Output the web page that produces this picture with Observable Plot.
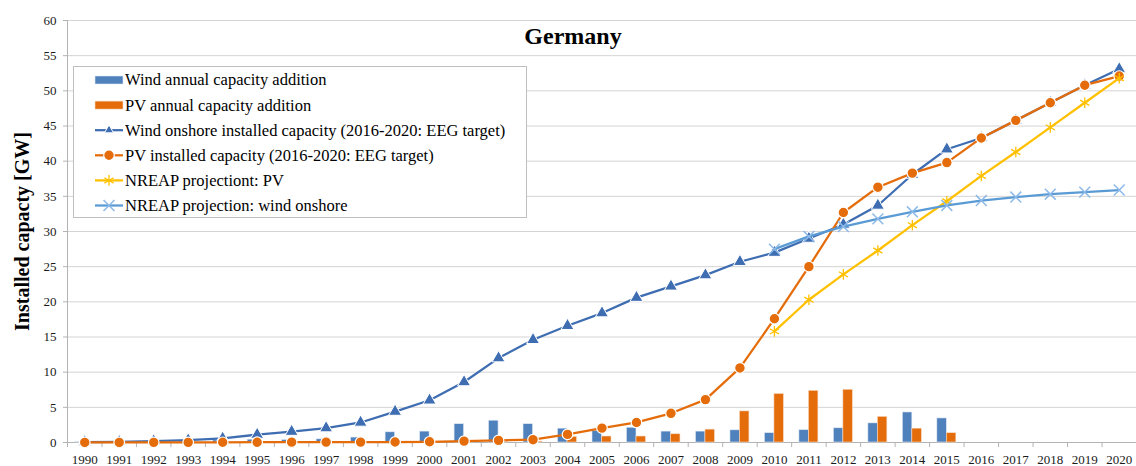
<!DOCTYPE html>
<html>
<head>
<meta charset="utf-8">
<script src="https://cdn.jsdelivr.net/npm/d3@7"></script>
<script src="https://cdn.jsdelivr.net/npm/@observablehq/plot@0.6"></script>
<style>
  html, body { margin: 0; padding: 0; background: #fff; }
  #wrap { position: relative; width: 1136px; height: 466px; font-family: "Liberation Serif", "Times New Roman", serif; }
  #wrap svg, #wrap svg text, #wrap svg g { font-family: "Liberation Serif", "Times New Roman", serif !important; }
  #wrap g[aria-label="y-axis tick label"], #wrap g[aria-label="x-axis tick label"] { font-size: 13px !important; font-variant: normal !important; }
  #legend { position: absolute; left: 73px; top: 66px; }
</style>
</head>
<body>
<div id="wrap"></div>
<script>
// ---------- data ----------
const years = ["1990","1991","1992","1993","1994","1995","1996","1997","1998","1999","2000",
  "2001","2002","2003","2004","2005","2006","2007","2008","2009","2010",
  "2011","2012","2013","2014","2015","2016","2017","2018","2019","2020"];
const addYears = years.slice(0, 26); // 1990-2015
const windAnnual = [0.05,0.05,0.07,0.15,0.3,0.4,0.35,0.45,0.7,1.45,1.55,2.6,3.1,2.6,1.97,1.65,2.1,1.55,1.55,1.73,1.32,1.75,2.02,2.72,4.27,3.42];
const pvAnnual = [0,0,0,0,0,0,0,0,0,0.01,0.04,0.08,0.08,0.14,0.8,0.85,0.85,1.17,1.83,4.42,6.9,7.35,7.5,3.65,1.97,1.32];
const windInstalled = [0.06,0.1,0.19,0.33,0.58,1.12,1.55,2.05,2.85,4.4,6.0,8.6,12.0,14.6,16.6,18.4,20.6,22.2,23.8,25.7,27.0,29.0,31.0,33.7,38.1,41.7,43.3,45.8,48.3,50.8,53.1];
const pvInstalled = [0.01,0.01,0.02,0.02,0.03,0.04,0.05,0.06,0.06,0.07,0.1,0.2,0.3,0.4,1.15,2.05,2.85,4.15,6.1,10.6,17.6,25.0,32.7,36.3,38.3,39.8,43.3,45.8,48.3,50.8,52.1];
const nreapYears = years.slice(20); // 2010-2020
const nreapPV = [15.8,20.3,23.9,27.3,30.9,34.3,37.9,41.3,44.8,48.3,51.8];
const nreapWind = [27.5,29.3,30.7,31.8,32.8,33.7,34.4,34.9,35.3,35.6,35.9];
const yTicks = [0,5,10,15,20,25,30,35,40,45,50,55,60];
const legendLabels = [
  "Wind annual capacity addition",
  "PV annual capacity addition",
  "Wind onshore installed capacity (2016-2020: EEG target)",
  "PV installed capacity (2016-2020: EEG target)",
  "NREAP projectiont: PV",
  "NREAP projection: wind onshore"
];

// ---------- styling ----------
const FONT = "Liberation Serif, Times New Roman, serif";
const C = {
  windBar: "#4F81BD", pvBar: "#E46C0A",
  windLine: "#3E6DB2", pvLine: "#E46C0A",
  nreapPV: "#FFC000", nreapWind: "#5B9BD5", nreapWindMark: "#8DB9E8",
  grid: "#d4d4d4", axis: "#b3b3b3", text: "#1a1a1a"
};

const zip = (xs, vs) => xs.map((x, i) => ({year: x, value: vs[i]}));
const windAddData = zip(addYears, windAnnual);
const pvAddData = zip(addYears, pvAnnual);
const windData = zip(years, windInstalled);
const pvData = zip(years, pvInstalled);
const nreapPVData = zip(nreapYears, nreapPV);
const nreapWindData = zip(nreapYears, nreapWind);

const W = 1136, H = 466, mL = 67, mR = 0, mT = 20, mB = 24;
const bw = (W - mL - mR) / years.length;
const barW = 9.5;

const chart = Plot.plot({
  width: W, height: H,
  marginLeft: mL, marginRight: mR, marginTop: mT, marginBottom: mB,
  style: {fontFamily: FONT, background: "white", color: C.text},
  x: {type: "band", domain: years, padding: 0, align: 0.5, round: false},
  y: {domain: [0, 60]},
  marks: [
    Plot.gridY(yTicks.filter(d => d > 0), {stroke: C.grid, strokeOpacity: 1}),
    Plot.ruleY([0], {stroke: C.axis}),
    Plot.ruleX(years, {x: d => d, dx: -bw / 2, y1: 0, y2: -0.72, stroke: C.axis}),
    Plot.ruleX(["1990"], {x: d => d, dx: -bw / 2, y1: -0.0, y2: 60, stroke: C.axis}),
    Plot.axisY({ticks: yTicks, tickSize: 4, tickPadding: 7, fontSize: 13, fontFamily: FONT, stroke: C.axis, fill: C.text, label: null}),
    Plot.axisX({tickSize: 0, tickPadding: 12, fontSize: 13, fontFamily: FONT, fill: C.text, label: null}),
    Plot.barY(windAddData, {x: "year", y: "value", fill: C.windBar, insetLeft: bw / 2 - barW, insetRight: bw / 2, stroke: "#dfe8f3", strokeWidth: 0.6}),
    Plot.barY(pvAddData, {x: "year", y: "value", fill: C.pvBar, insetLeft: bw / 2, insetRight: bw / 2 - barW, stroke: "#f6dcc8", strokeWidth: 0.6}),
    Plot.line(windData, {x: "year", y: "value", stroke: C.windLine, strokeWidth: 2.25}),
    Plot.dot(windData, {x: "year", y: "value", symbol: "triangle", r: 4.8, fill: C.windLine, stroke: "white", strokeWidth: 1}),
    Plot.line(pvData, {x: "year", y: "value", stroke: C.pvLine, strokeWidth: 2.25}),
    Plot.dot(pvData, {x: "year", y: "value", symbol: "circle", r: 5.3, fill: C.pvLine, stroke: "white", strokeWidth: 1.2}),
    Plot.line(nreapPVData, {x: "year", y: "value", stroke: C.nreapPV, strokeWidth: 2.25}),
    Plot.dot(nreapPVData, {x: "year", y: "value", symbol: "asterisk", r: 5, stroke: C.nreapPV, strokeWidth: 1.3}),
    Plot.line(nreapWindData, {x: "year", y: "value", stroke: C.nreapWind, strokeWidth: 2.25}),
    Plot.dot(nreapWindData, {x: "year", y: "value", symbol: "times", r: 5, stroke: C.nreapWindMark, strokeWidth: 1.5}),
    Plot.text(["Germany"], {text: d => d, frameAnchor: "top", dx: -29, dy: 16, fontSize: 24, fontFamily: FONT, fontWeight: "bold", fill: "#000", lineAnchor: "middle"}),
    Plot.text(["Installed capacty [GW]"], {text: d => d, frameAnchor: "left", textAnchor: "middle", dx: -45, rotate: -90, fontSize: 20, fontFamily: FONT, fontWeight: "bold", fill: "#000", lineAnchor: "middle"})
  ]
});
const wrap = document.getElementById("wrap");
wrap.appendChild(chart);

// ---------- legend (overlay) ----------
const lw = 453, lh = 151;
const leg = d3.select(wrap).append("svg").attr("id", "legend").attr("width", lw + 1).attr("height", lh + 1);
leg.append("rect").attr("x", 0.5).attr("y", 0.5).attr("width", lw).attr("height", lh)
  .attr("fill", "white").attr("stroke", "#bfbfbf");
const rowY = i => 14 + i * 25.1;
const sx0 = 22, sx1 = 50, scx = 36;
legendLabels.forEach((label, i) => {
  const g = leg.append("g").attr("transform", `translate(0,${rowY(i)})`);
  if (i === 0 || i === 1) {
    g.append("rect").attr("x", sx0).attr("y", -4).attr("width", sx1 - sx0).attr("height", 8)
      .attr("fill", i === 0 ? C.windBar : C.pvBar).attr("stroke", i === 0 ? "#dfe8f3" : "#f6dcc8").attr("stroke-width", 0.6);
  } else {
    const col = [null, null, C.windLine, C.pvLine, C.nreapPV, C.nreapWind][i];
    g.append("line").attr("x1", sx0).attr("x2", sx1).attr("y1", 0).attr("y2", 0)
      .attr("stroke", col).attr("stroke-width", 2.25);
    if (i === 2) {
      g.append("path").attr("transform", `translate(${scx},0)`).attr("d", d3.symbol(d3.symbolTriangle2, 60)())
        .attr("fill", col).attr("stroke", "white").attr("stroke-width", 1);
    } else if (i === 3) {
      g.append("circle").attr("cx", scx).attr("cy", 0).attr("r", 5.3).attr("fill", col).attr("stroke", "white").attr("stroke-width", 1.2);
    } else if (i === 4) {
      g.append("path").attr("transform", `translate(${scx},0)`).attr("d", d3.symbol(d3.symbolAsterisk, 80)())
        .attr("fill", "none").attr("stroke", col).attr("stroke-width", 1.3);
    } else {
      g.append("path").attr("transform", `translate(${scx},0)`).attr("d", d3.symbol(d3.symbolTimes, 80)())
        .attr("fill", "none").attr("stroke", C.nreapWindMark).attr("stroke-width", 1.5);
    }
  }
  g.append("text").attr("x", 52).attr("y", 0).attr("dy", "0.33em")
    .attr("font-family", FONT).attr("font-size", 16.5)
    .attr("fill", "#000").text(label);
});
</script>
</body>
</html>
